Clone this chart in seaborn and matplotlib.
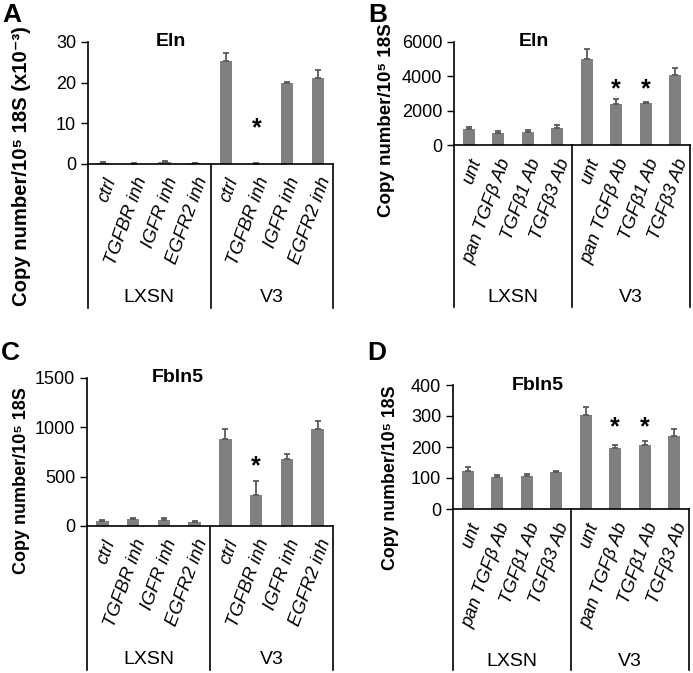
import seaborn as sns
import matplotlib.pyplot as plt
import pandas as pd

# ---- data ----
inh_labels = ["ctrl", "TGFBR inh", "IGFR inh", "EGFR2 inh"] * 2
ab_labels = ["unt", "pan TGFβ Ab", "TGFβ1 Ab", "TGFβ3 Ab"] * 2
groups = ["LXSN", "V3"]

eln_inh = [0.3, 0.1, 0.6, 0.2, 25.3, 0.1, 19.8, 21.2]
eln_inh_err = [0.15, 0.05, 0.2, 0.1, 1.9, 0.05, 0.3, 1.9]

eln_ab = [915, 720, 780, 995, 5000, 2375, 2430, 4070]
eln_ab_err = [110, 95, 95, 175, 610, 310, 100, 410]

fbln_inh = [51, 75, 64, 41, 883, 316, 679, 981]
fbln_inh_err = [13, 10, 21, 7, 98, 139, 51, 88]

fbln_ab = [124, 103, 107, 120, 303, 198, 208, 234]
fbln_ab_err = [12, 7, 4.5, 3, 25, 8, 10, 23]

# asterisks: bar index -> height (data units) where the star sits
star_eln_inh = {5: 8.7}
star_eln_ab = {5: 3250, 6: 3250}
star_fbln_inh = {5: 600}
star_fbln_ab = {5: 262, 6: 262}

W, H = 693, 673
plt.rcParams["font.family"] = ["Liberation Sans", "DejaVu Sans"]
fig = plt.figure(figsize=(W / 100, H / 100), dpi=100)
fig.set_facecolor("white")


def panel(letter, letter_y, title, title_x, labels, vals, errs, stars, box_px,
          ymax, yticks, ylabel, ylab_pos, ylab_size, bottom_px, grp_px):
    left, top, right, zero = box_px
    ax = fig.add_axes([left / W, 1 - zero / H, (right - left) / W, (zero - top) / H])
    df = pd.DataFrame({"cond": [f"{i}" for i in range(8)], "val": vals})
    sns.barplot(data=df, x="cond", y="val", color="#808080", saturation=1,
                width=0.4, ax=ax, edgecolor="none")
    xs = list(range(8))
    ax.errorbar(xs, vals, yerr=[[0] * 8, errs], fmt="none", ecolor="#5a5a5a",
                elinewidth=1.3, capsize=2, capthick=1.3)
    for i, sy in stars.items():
        ax.text(i, sy, "*", ha="center", va="center",
                fontsize=18, fontweight="bold")
    ax.set_xlim(-0.5, 7.5)
    ax.set_ylim(0, ymax)
    ax.set_yticks(yticks)
    ax.set_yticklabels([str(t) for t in yticks], fontsize=13)
    ax.set_xticks(xs)
    ax.set_xticklabels(labels, rotation=70, ha="right", rotation_mode="anchor",
                       fontstyle="italic", fontsize=13.3)
    ax.tick_params(axis="x", length=0, pad=8)
    ax.tick_params(axis="y", length=5, width=1, direction="out")
    ax.set_xlabel("")
    ax.set_ylabel("")
    sns.despine(ax=ax)
    for s in ["left", "bottom"]:
        ax.spines[s].set_linewidth(1.2)
    ax.text(title_x, 1.0, title, transform=ax.transAxes, ha="center", va="center",
            fontsize=14, fontweight="bold")
    # group boxes under the axis
    hpx = zero - top
    trans = ax.get_xaxis_transform()
    ybot = -(bottom_px - zero) / hpx
    ygrp = -(grp_px - zero) / hpx
    for xv in [-0.5, 3.5, 7.5]:
        ax.plot([xv, xv], [0, ybot], transform=trans, color="black", lw=1.2,
                clip_on=False)
    for g, xc in zip(groups, [1.5, 5.5]):
        ax.text(xc, ygrp, g, transform=trans, ha="center", va="center",
                fontsize=14)
    fig.text(ylab_pos[0] / W, 1 - ylab_pos[1] / H, ylabel, rotation=90,
             ha="center", va="center", fontsize=ylab_size, fontweight="bold")
    fig.text((left - 86) / W, 1 - letter_y / H, letter, ha="left", va="top",
             fontsize=19, fontweight="bold")
    return ax


panel("A", 3, "Eln", 0.34, inh_labels, eln_inh, eln_inh_err, star_eln_inh,
      (88, 42, 333, 164), 30, [0, 10, 20, 30],
      "Copy number/10⁵ 18S (x10⁻³)", (22, 166), 14.6, 308, 298)
panel("B", 3, "Eln", 0.34, ab_labels, eln_ab, eln_ab_err, star_eln_ab,
      (454, 42, 690, 145), 6000, [0, 2000, 4000, 6000],
      "Copy number/10⁵ 18S", (386, 120), 13.5, 307, 298)
panel("C", 341, "Fbln5", 0.37, inh_labels, fbln_inh, fbln_inh_err, star_fbln_inh,
      (87, 378, 333, 526), 1500, [0, 500, 1000, 1500],
      "Copy number/10⁵ 18S", (22, 481), 13, 670, 660)
panel("D", 341, "Fbln5", 0.36, ab_labels, fbln_ab, fbln_ab_err, star_fbln_ab,
      (453, 385, 689, 509), 400, [0, 100, 200, 300, 400],
      "Copy number/10⁵ 18S", (391, 478), 12.8, 670, 662)

plt.savefig("out.png", dpi=100)
